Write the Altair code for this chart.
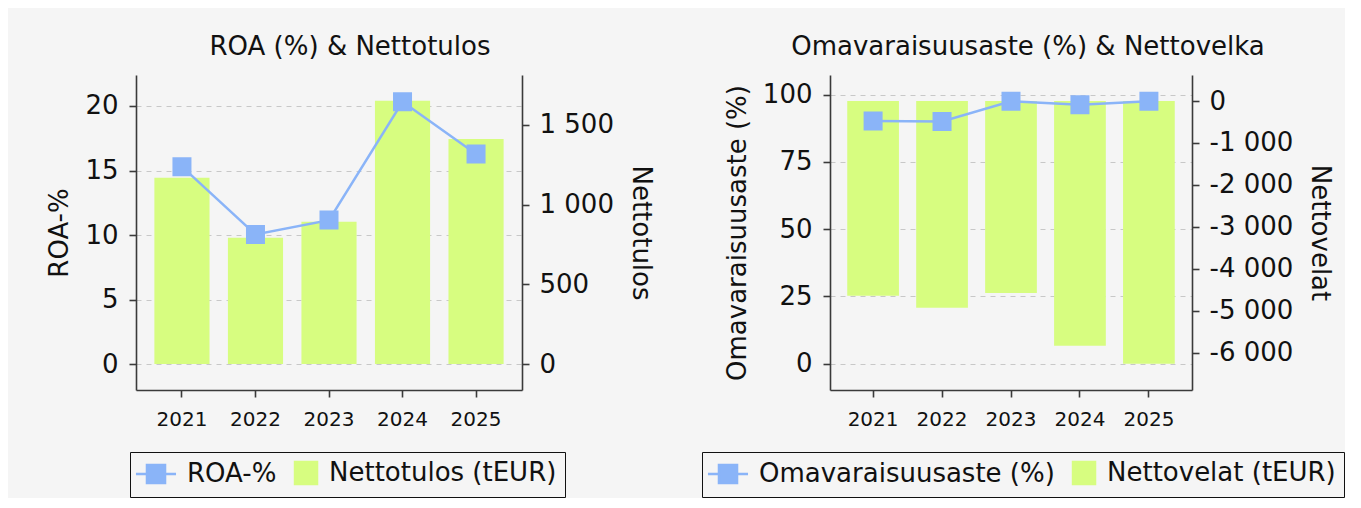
import altair as alt
import pandas as pd

# ---- data ----
years = ["2021", "2022", "2023", "2024", "2025"]
roa = [15.3, 10.05, 11.16, 20.33, 16.28]
nettotulos = [1168, 792, 892, 1651, 1411]
omavaraisuusaste = [90.2, 90.0, 97.5, 96.2, 97.5]
nettovelat = [-4641, -4927, -4577, -5833, -6262]

left_series = ["ROA-%", "Nettotulos (tEUR)"]
right_series = ["Omavaraisuusaste (%)", "Nettovelat (tEUR)"]

left_y_ticks = [0, 5, 10, 15, 20]
left_y2_ticks = [0, 500, 1000, 1500]
right_y_ticks = [0, 25, 50, 75, 100]
right_y2_ticks = [-6000, -5000, -4000, -3000, -2000, -1000, 0]

FONT = "DejaVu Sans"
BLUE = "#8ab4f8"
GREEN = "#d7fd80"
BG = "#f5f5f5"

LINE_SQUARE = "M-1.82,0H1.82M-0.82,-0.82H0.82V0.82H-0.82Z"
PATCH = "M-0.27,-1H1.73V1H-0.27Z"

NUM_EXPR = ("replace(replace(format(datum.value, ',d'), regexp(',', 'g'), ' '), "
            "regexp('\u2212', 'g'), '-')")


def x_enc():
    return alt.X(
        "year:N", sort=years, title=None,
        scale=alt.Scale(paddingInner=0.25, paddingOuter=0.25),
        axis=alt.Axis(labelAngle=0, labelFontSize=20, tickSize=7, labelPadding=12),
    )


def legend(lx, ly):
    return alt.Legend(
        title=None, orient="none", legendX=lx, legendY=ly, direction="horizontal",
        columns=2, labelFontSize=26, labelFont=FONT, labelColor="#111", labelLimit=600,
        symbolSize=484, symbolStrokeWidth=2.5, labelOffset=18, symbolOffset=5,
        columnPadding=3, padding=8, strokeColor="#111", fillColor=BG, cornerRadius=0,
        symbolOpacity=1,
    )


def panel(df, line_field, bar_field, series, ydom, y2dom, yticks, y2ticks,
          ytitle, y2title, title, dx, lx, ly, width):
    yl = alt.Y(
        f"{line_field}:Q",
        scale=alt.Scale(domain=ydom, nice=False, zero=False),
        axis=alt.Axis(orient="left", values=yticks, grid=True, title=ytitle,
                      tickSize=7, labelPadding=11, labelFontSize=26,
                      titleFontSize=26, titlePadding=12),
    )
    bars = alt.Chart(df).mark_bar(color=GREEN).encode(
        x=x_enc(),
        y=alt.Y(
            f"{bar_field}:Q",
            scale=alt.Scale(domain=y2dom, nice=False, zero=False),
            axis=alt.Axis(orient="right", values=y2ticks, grid=False, title=y2title,
                          tickSize=7, labelPadding=10, labelFontSize=26,
                          titleFontSize=26, titlePadding=14, labelExpr=NUM_EXPR),
        ),
        y2=alt.datum(0),
    )
    line = alt.Chart(df).mark_line(color=BLUE, strokeWidth=2.5).encode(x=x_enc(), y=yl)
    lg = legend(lx, ly)
    points = alt.Chart(df).mark_point(filled=True, size=537, opacity=1).encode(
        x=x_enc(), y=yl,
        color=alt.Color("s:N", scale=alt.Scale(domain=series, range=[BLUE, GREEN]), legend=lg),
        stroke=alt.Stroke("s:N", scale=alt.Scale(domain=series, range=[BLUE, GREEN]), legend=lg),
        shape=alt.Shape("s:N", scale=alt.Scale(domain=series, range=[LINE_SQUARE, PATCH]), legend=lg),
        strokeWidth=alt.value(0),
    )
    return alt.layer(bars, alt.layer(line, points)).resolve_scale(y="independent").properties(
        width=width, height=315,
        title=alt.Title(title, fontSize=26, font=FONT, fontWeight="normal", color="#111",
                        dx=dx, offset=-6, baseline="alphabetic", anchor="middle", frame="group"),
    )


df_left = pd.DataFrame({"year": years, "roa": roa, "nettotulos": nettotulos, "s": left_series[0]})
df_right = pd.DataFrame({"year": years, "oma": omavaraisuusaste, "velat": nettovelat, "s": right_series[0]})

left = panel(df_left, "roa", "nettotulos", left_series, [-2.0, 22.4], [-163, 1812],
             left_y_ticks, left_y2_ticks, "ROA-%", "Nettotulos", "ROA (%) & Nettotulos",
             21, -6, 377, 386)
right = panel(df_right, "oma", "velat", right_series, [-9.8, 107.3], [-6889, 620],
              right_y_ticks, right_y2_ticks, "Omavaraisuusaste (%)", "Nettovelat",
              "Omavaraisuusaste (%) & Nettovelka", 17, -128, 377, 362)

chart = alt.hconcat(left, right, spacing=47).resolve_scale(
    x="independent", y="independent", color="independent", stroke="independent", shape="independent"
).properties(
    padding={"left": 38, "top": 26, "right": 0, "bottom": 0},
    background=BG,
).configure(
    font=FONT,
).configure_view(
    strokeWidth=0,
).configure_axis(
    domainColor="#3a3a3a", domainWidth=1.6, tickColor="#3a3a3a", tickWidth=1.6,
    labelColor="#111", titleColor="#111", labelFont=FONT, titleFont=FONT,
    titleFontWeight="normal", gridColor="#c8c8c8", gridDash=[5, 5], gridWidth=1,
)

chart.save("out.html", embed_options={"renderer": "svg", "actions": False})
